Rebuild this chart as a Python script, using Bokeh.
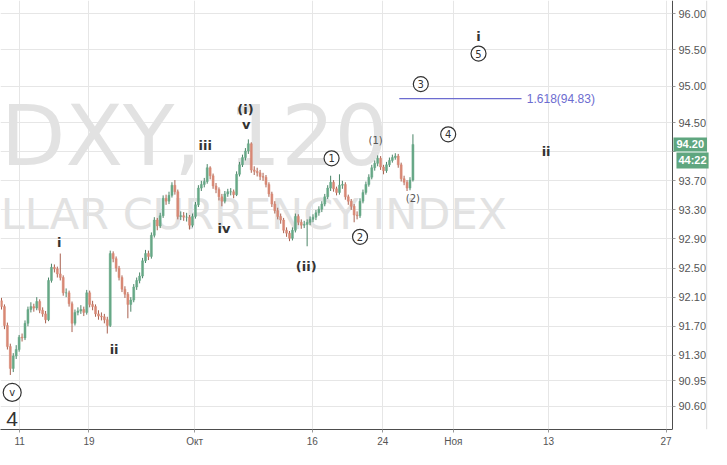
import numpy as np
from bokeh.plotting import figure
from bokeh.models import Range1d, FixedTicker, NumeralTickFormatter, Label, ColumnDataSource, Span
from bokeh.core.properties import value
from bokeh.embed import file_html
from bokeh.resources import INLINE

# ---------------- data (DXY, 120 min; 6h resolution) ----------------
first_open = 92.05
close = [91.97, 91.71, 91.42, 91.12, 91.29, 91.38, 91.55, 91.54, 91.74, 91.93,
         91.97, 91.95, 92.04, 91.92, 91.87, 91.79, 92.33, 92.51, 92.49, 92.42,
         92.37, 92.16, 92.16, 92.01, 91.74, 91.89, 91.91, 91.93, 91.89, 92.16,
         92.00, 91.97, 91.87, 91.84, 91.83, 91.79, 91.71, 92.70, 92.63, 92.50,
         92.37, 92.21, 92.14, 92.00, 92.06, 92.24, 92.33, 92.39, 92.60, 92.70,
         92.66, 92.95, 93.16, 93.08, 93.22, 93.46, 93.42, 93.50, 93.64, 93.55,
         93.21, 93.22, 93.20, 93.20, 93.09, 93.21, 93.37, 93.60, 93.65, 93.69,
         93.88, 93.77, 93.63, 93.58, 93.48, 93.42, 93.52, 93.55, 93.55, 93.51,
         93.79, 93.92, 94.02, 94.11, 94.21, 93.85, 93.83, 93.81, 93.76, 93.75,
         93.65, 93.52, 93.38, 93.29, 93.21, 93.16, 93.02, 92.98, 92.91, 93.02,
         93.21, 93.13, 93.09, 93.10, 93.13, 93.17, 93.20, 93.26, 93.31, 93.38,
         93.48, 93.60, 93.68, 93.59, 93.54, 93.64, 93.65, 93.48, 93.42, 93.35,
         93.23, 93.22, 93.42, 93.54, 93.65, 93.75, 93.88, 93.94, 94.01, 93.89,
         93.84, 93.92, 93.98, 94.02, 94.04, 93.92, 93.73, 93.68, 93.60, 93.71,
         94.20]
high = [92.09, 92.00, 91.75, 91.46, 91.33, 91.44, 91.58, 91.60, 91.78, 91.97,
        92.03, 92.01, 92.10, 92.07, 91.96, 91.91, 92.37, 92.56, 92.55, 92.52,
        92.70, 92.40, 92.22, 92.19, 92.04, 91.93, 91.96, 91.99, 91.97, 92.20,
        92.19, 92.05, 92.00, 91.92, 91.89, 91.87, 91.83, 92.74, 92.73, 92.66,
        92.53, 92.40, 92.25, 92.17, 92.10, 92.28, 92.37, 92.44, 92.64, 92.75,
        92.74, 92.99, 93.20, 93.19, 93.26, 93.50, 93.51, 93.55, 93.68, 93.71,
        93.58, 93.28, 93.27, 93.26, 93.23, 93.25, 93.41, 93.64, 93.70, 93.74,
        93.93, 93.90, 93.80, 93.67, 93.61, 93.52, 93.56, 93.59, 93.60, 93.58,
        93.83, 93.96, 94.06, 94.15, 94.27, 94.23, 93.90, 93.88, 93.85, 93.81,
        93.78, 93.68, 93.55, 93.42, 93.33, 93.25, 93.19, 93.06, 93.01, 93.06,
        93.25, 93.24, 93.17, 93.15, 93.17, 93.21, 93.24, 93.30, 93.35, 93.42,
        93.52, 93.64, 93.77, 93.71, 93.62, 93.79, 93.70, 93.68, 93.51, 93.45,
        93.38, 93.28, 93.46, 93.58, 93.69, 93.79, 93.92, 93.98, 94.05, 94.04,
        93.92, 93.96, 94.02, 94.06, 94.08, 94.07, 93.95, 93.77, 93.71, 93.75,
        94.34]
low = [91.93, 91.66, 91.38, 91.03, 91.07, 91.25, 91.35, 91.49, 91.51, 91.70,
       91.89, 91.90, 91.92, 91.88, 91.83, 91.74, 91.77, 92.30, 92.44, 92.37,
       92.33, 92.12, 92.10, 91.97, 91.62, 91.71, 91.85, 91.87, 91.84, 91.86,
       91.96, 91.92, 91.83, 91.79, 91.78, 91.74, 91.60, 91.69, 92.58, 92.45,
       92.33, 92.17, 92.09, 91.81, 91.90, 92.03, 92.20, 92.29, 92.36, 92.57,
       92.61, 92.63, 92.92, 93.02, 93.05, 93.19, 93.37, 93.38, 93.47, 93.51,
       93.17, 93.16, 93.15, 93.14, 93.03, 93.06, 93.18, 93.34, 93.56, 93.61,
       93.66, 93.72, 93.59, 93.53, 93.43, 93.35, 93.39, 93.48, 93.50, 93.46,
       93.49, 93.76, 93.89, 93.98, 94.07, 93.81, 93.78, 93.76, 93.71, 93.70,
       93.61, 93.48, 93.34, 93.25, 93.17, 93.11, 92.98, 92.93, 92.87, 92.88,
       92.99, 93.09, 93.04, 93.05, 92.80, 93.09, 93.13, 93.16, 93.22, 93.27,
       93.35, 93.45, 93.56, 93.55, 93.50, 93.51, 93.59, 93.44, 93.37, 93.30,
       93.13, 93.17, 93.19, 93.39, 93.51, 93.62, 93.72, 93.84, 93.90, 93.85,
       93.79, 93.81, 93.89, 93.95, 93.99, 93.88, 93.69, 93.64, 93.56, 93.57,
       93.69]

bar_start = -1.54      # trading days relative to 11 Sep (first bar)
bar_step = 0.25        # one bar = 1/4 trading day

x_tick_pos = [0.0, 5.9, 14.9, 24.9, 30.9, 36.9, 45.0, 55.0]
x_tick_labels = ["11", "19", "Окт", "16", "24", "Ноя", "13", "27"]
y_ticks = [90.60, 90.95, 91.30, 91.70, 92.10, 92.50, 92.90, 93.30, 93.70,
           94.10, 94.50, 95.00, 95.50, 96.00]

last_price = 94.20
timer_text = "44:22"
fib_level = 94.83
fib_x0, fib_x1 = 32.3, 42.7
fib_text = "1.618(94.83)"

watermark_1 = "DXY, 120"
watermark_2 = "LLAR CURRENCY INDEX"

# Elliott wave labels
wave_txt = ["i", "ii", "iii", "iv", "(i)", "v", "(ii)", "i", "ii"]
wave_x = [3.38, 8.04, 15.79, 17.38, 19.21, 19.29, 24.38, 39.04, 44.79]
wave_y = [92.85, 91.38, 94.18, 93.05, 94.68, 94.48, 92.52, 95.69, 94.10]

circ_txt = ["1", "2", "3", "4", "5", "v"]
circ_x = [26.54, 28.96, 34.13, 36.46, 39.04, -0.63]
circ_y = [94.01, 92.93, 95.03, 94.34, 95.45, 90.79]

sub_txt = ["(1)", "(2)"]
sub_x = [30.29, 33.46]
sub_y = [94.25, 93.46]

# ---------------- layout of the view ----------------
x_view = (-1.625, 58.86)   # visible time span (trading days), price scale sits at x_axis_at
x_axis_at = 55.54
pane_edge = 58.45
y_view = (90.28, 96.18)

# ---------------- derived ----------------
n = len(close)
opens = [first_open] + close[:-1]
xs = bar_start + bar_step * np.arange(n)
o = np.array(opens); c = np.array(close)
up = c >= o
body_col = np.where(up, "#67a887", "#d88875")
wick_col = np.where(up, "#4a8467", "#a8604f")
src = ColumnDataSource(dict(x=xs, h=high, l=low, top=np.maximum(o, c), bot=np.minimum(o, c),
                            col=body_col, wcol=wick_col))

p = figure(width=711, height=449, output_backend="svg", toolbar_location=None,
           x_range=Range1d(*x_view), y_range=Range1d(*y_view),
           y_axis_location="right", min_border_left=0, min_border_top=0,
           min_border_right=0, min_border_bottom=0)
p.outline_line_color = None
p.background_fill_color = "white"

# grid
p.xgrid.ticker = FixedTicker(ticks=x_tick_pos)
p.ygrid.ticker = FixedTicker(ticks=y_ticks)
p.xgrid.grid_line_color = "#e6e6e6"
p.ygrid.grid_line_color = "#e6e6e6"

# white strip behind the price scale (hides grid lines there)
p.quad(left=[x_axis_at], right=[x_view[1]], bottom=[y_view[0]], top=[y_view[1]],
       fill_color="white", line_color=None)
p.add_layout(Span(location=pane_edge, dimension="height", line_color="#dcdcdc", line_width=1))

# axes
p.yaxis.fixed_location = x_axis_at
p.yaxis.ticker = FixedTicker(ticks=y_ticks)
p.yaxis.formatter = NumeralTickFormatter(format="0.00")
p.yaxis.major_label_overrides = {94.1: ""}
p.xaxis.ticker = FixedTicker(ticks=x_tick_pos)
p.xaxis.major_label_overrides = {k: v for k, v in zip(x_tick_pos, x_tick_labels)}
p.xaxis.bounds = (x_view[0], x_axis_at)
for ax in (p.xaxis, p.yaxis):
    ax.axis_line_color = "#4d4d4d"
    ax.major_tick_line_color = "#9a9a9a"
    ax.major_tick_in = 0
    ax.major_tick_out = 3
    ax.minor_tick_line_color = None
    ax.major_label_text_color = "#555555"
    ax.major_label_text_font = "Liberation Sans"
    ax.major_label_standoff = 3
p.yaxis.major_label_text_font_size = "11px"
p.xaxis.major_label_text_font_size = "10px"

# watermark
p.text(x=[-1.6], y=[94.32], text=[watermark_1], text_font=value("DejaVu Sans"),
       text_font_size="84px", text_color="#e2e2e2", text_align="left",
       text_baseline="middle")
p.text(x=[-1.6], y=[93.24], text=[watermark_2], text_font=value("DejaVu Sans"),
       text_font_size="43px", text_color="#e2e2e2", text_align="left",
       text_baseline="middle")

# candles
p.segment(x0="x", y0="h", x1="x", y1="l", line_color="wcol", line_width=1, source=src)
p.vbar(x="x", width=0.17, top="top", bottom="bot", fill_color="col", line_color="col",
       line_width=0.5, source=src)

# fibonacci line
p.line(x=[fib_x0, fib_x1], y=[fib_level, fib_level], line_color="#6c6cd0", line_width=1.2)
p.text(x=[fib_x1 + 0.45], y=[fib_level], text=[fib_text], text_font=value("Liberation Sans"),
       text_font_size="12px", text_color="#6c6cd0", text_baseline="middle", text_align="left")

# wave labels
p.text(x=wave_x, y=wave_y, text=wave_txt, text_font=value("DejaVu Sans"), text_font_style="bold",
       text_font_size="13px", text_color="#333333", text_align="center", text_baseline="middle")
sizes = [15, 15, 15, 15, 15, 18]
p.scatter(x=circ_x, y=circ_y, marker="circle", size=sizes, fill_color="white",
          line_color="#333333", line_width=1.2)
p.text(x=circ_x, y=circ_y, text=circ_txt, text_font=value("DejaVu Sans"),
       text_font_size="10px", text_color="#333333", text_align="center", text_baseline="middle")
p.text(x=circ_x[5:], y=[circ_y[5] - 0.36], text=["4"], text_font=value("Liberation Sans"),
       text_font_size="21px", text_color="#333333", text_align="center", text_baseline="middle")
p.text(x=sub_x, y=sub_y, text=sub_txt, text_font=value("DejaVu Sans"),
       text_font_size="10px", text_color="#555555", text_align="center", text_baseline="middle")

# last price / timer tags on the price scale
p.add_layout(Label(x=x_axis_at, y=last_price, x_offset=1, text=f"{last_price:.2f}",
                   text_color="white", text_font="Liberation Sans", text_font_size="11px",
                   text_font_style="bold", text_baseline="middle", text_align="left",
                   background_fill_color="#5fa67f", padding=3))
p.add_layout(Label(x=x_axis_at, y=last_price, x_offset=4, y_offset=-16, text=timer_text,
                   text_color="white", text_font="Liberation Sans", text_font_size="11px",
                   text_font_style="bold", text_baseline="middle", text_align="left",
                   background_fill_color="#5fa67f", padding=2))

open("out.html", "w").write(file_html(p, INLINE))
